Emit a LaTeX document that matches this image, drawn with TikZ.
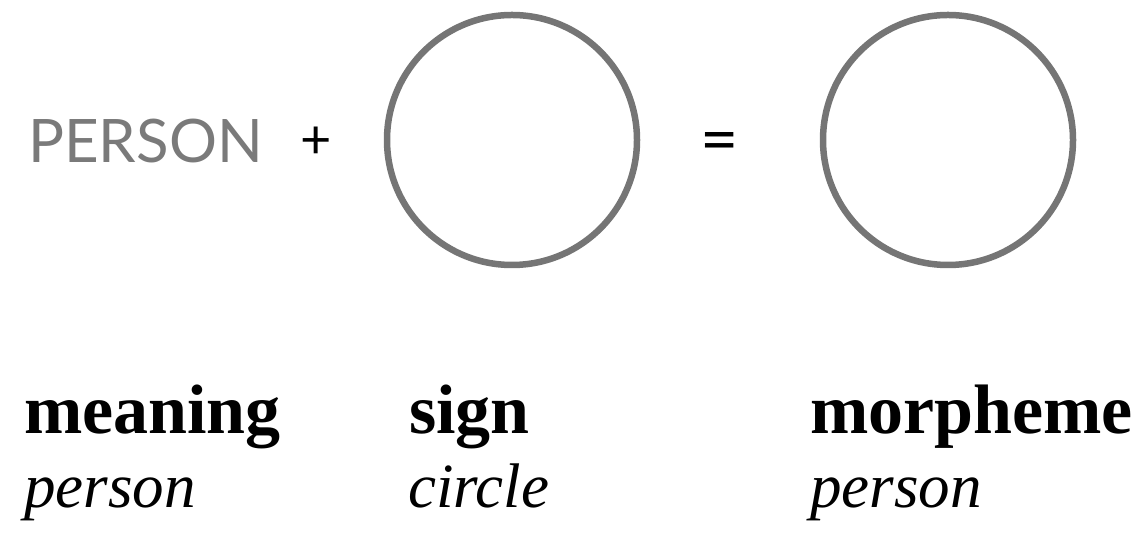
\documentclass[tikz,border=0pt]{standalone}
\usepackage{fontspec}
\setmainfont{Liberation Serif}
\newfontfamily\labelsans{Lato}
\definecolor{ringgrey}{HTML}{757575}
\definecolor{wordgrey}{HTML}{7A7A7A}
\begin{document}
\begin{tikzpicture}[x=1pt,y=1pt,
  ring/.style={draw=ringgrey,line width=6.5pt},
  sanslabel/.style={inner sep=0pt,anchor=base west,text=wordgrey,font=\labelsans\fontsize{60}{60}\selectfont},
  opsign/.style={inner sep=0pt,anchor=center,font=\labelsans\fontsize{54}{54}\selectfont},
  boldword/.style={inner sep=0pt,anchor=base west,font=\fontsize{70}{70}\selectfont\bfseries},
  itword/.style={inner sep=0pt,anchor=base west,font=\fontsize{63}{63}\selectfont\itshape}]
\useasboundingbox (0,0) rectangle (1148,537);
\node[sanslabel] (meaningword) at (28,374) {PERSON};
\node[opsign] (plus) at (316,394) {+};
\draw[ring] (512,397) circle (125);
\coordinate (signcircle) at (512,397);
\node[opsign,font=\labelsans\fontsize{66}{66}\selectfont] (equals) at (720,389) {=};
\draw[ring] (948,397) circle (125);
\coordinate (morphcircle) at (948,397);
\node[boldword] (meaning) at (24,103) {meaning};
\node[boldword] (sign) at (409,103) {sign};
\node[boldword] (morpheme) at (810,103) {morpheme};
\node[itword] (person1) at (24,29) {person};
\node[itword] (circle) at (408,29) {circle};
\node[itword] (person2) at (810,29) {person};
\end{tikzpicture}
\end{document}
